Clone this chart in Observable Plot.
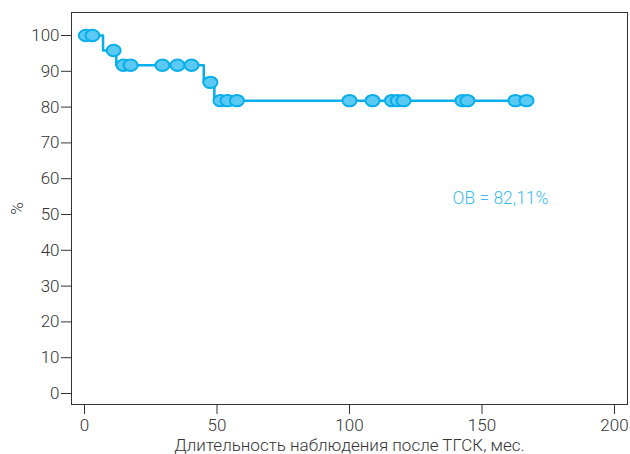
<!DOCTYPE html>
<html>
<head>
<meta charset="utf-8">
<script src="https://cdn.jsdelivr.net/npm/d3@7"></script>
<script src="https://cdn.jsdelivr.net/npm/@observablehq/plot@0.6"></script>
<style>
  html, body { margin: 0; padding: 0; background: #fff; }
  svg { font-family: Roboto, "DejaVu Sans", sans-serif; }
</style>
</head>
<body>
<div id="chart"></div>
<script>
// Step points of the survival curve (month, %)
const stepMonths = [0, 7, 12, 45, 49, 167];
const stepValues = [100, 95.8, 91.7, 86.9, 81.8, 81.8];

// Censored observations (month, %)
const censorMonths = [0.5, 3, 11, 14.7, 17.4, 29.4, 35.1, 40.4, 47.5, 51.3, 54, 57.5,
                      100, 108.7, 116, 118.2, 120.4, 142.6, 144.5, 162.6, 166.8];
const censorValues = [100, 100, 95.8, 91.7, 91.7, 91.7, 91.7, 91.7, 86.9, 81.8, 81.8, 81.8,
                      81.8, 81.8, 81.8, 81.8, 81.8, 81.8, 81.8, 81.8, 81.8];

const xTicks = [0, 50, 100, 150, 200];
const yTicks = [0, 10, 20, 30, 40, 50, 60, 70, 80, 90, 100];
const annotation = [{x: 157, y: 54.5, text: "ОВ = 82,11%"}];
const xLabel = "Длительность наблюдения после ТГСК, мес.";
const yLabel = "%";

const steps = stepMonths.map((m, i) => ({x: m, y: stepValues[i]}));
const censored = censorMonths.map((m, i) => ({x: m, y: censorValues[i]}));

// Custom elliptical symbol
const ellipse = {
  draw(context, size) {
    const rx = 7, ry = 5.7, k = 0.5523;
    context.moveTo(rx, 0);
    context.bezierCurveTo(rx, ry * k, rx * k, ry, 0, ry);
    context.bezierCurveTo(-rx * k, ry, -rx, ry * k, -rx, 0);
    context.bezierCurveTo(-rx, -ry * k, -rx * k, -ry, 0, -ry);
    context.bezierCurveTo(rx * k, -ry, rx, -ry * k, rx, 0);
    context.closePath();
  }
};

const chart = Plot.plot({
  width: 630,
  height: 454,
  marginLeft: 71,
  marginRight: 3,
  marginTop: 12,
  marginBottom: 50,
  insetLeft: 13,
  insetRight: 13,
  insetTop: 23,
  insetBottom: 11,
  style: {fontFamily: "Roboto, sans-serif", fontSize: "17px", color: "#333"},
  x: {domain: [0, 200]},
  y: {domain: [0, 100]},
  marks: [
    Plot.frame({stroke: "#333", strokeWidth: 1}),
    Plot.axisX({ticks: xTicks, tickSize: 10, tickPadding: 4, fontSize: 17, fontWeight: 300,
                label: xLabel, labelAnchor: "center", labelOffset: 46, labelArrow: "none"}),
    Plot.axisY({ticks: yTicks, tickSize: 10, tickPadding: 2, fontSize: 17, fontWeight: 300,
                label: yLabel, labelAnchor: "center", labelOffset: 61, labelArrow: "none"}),
    Plot.line(steps, {x: "x", y: "y", curve: "step-after", stroke: "#08aeea", strokeWidth: 2.5}),
    Plot.dot(censored, {x: "x", y: "y", symbol: ellipse, r: 6, fill: "#5ac9f4", stroke: "#08aeea", strokeWidth: 2}),
    Plot.text(annotation, {x: "x", y: "y", text: "text", fill: "#3dbaea", fontSize: 17.5, fontWeight: 300})
  ]
});
document.getElementById("chart").appendChild(chart);
</script>
</body>
</html>
